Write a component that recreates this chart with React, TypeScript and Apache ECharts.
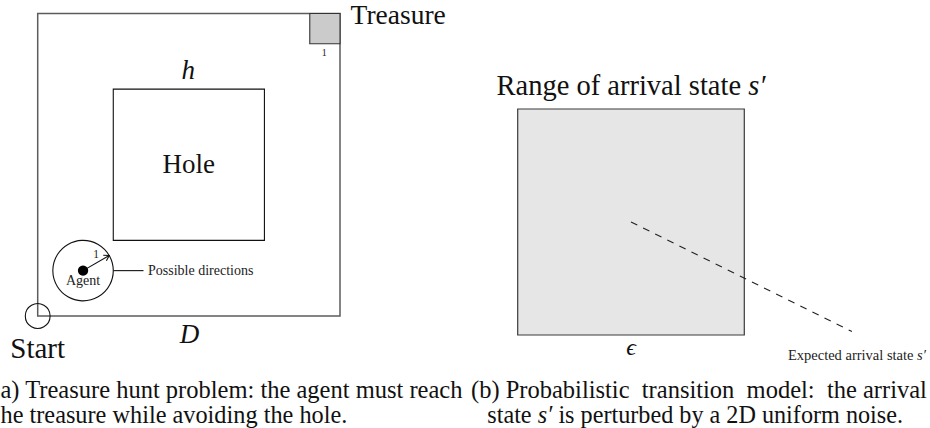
import React, { useEffect, useRef } from "react";
import * as echarts from "echarts";

const FONT = '"Liberation Serif", "Times New Roman", "DejaVu Serif", serif';

// ---------- Panel (a): treasure hunt world, unit = treasure cell (D = 10) ----------
const worldRange = [0, 10];
const treasureCell = [9, 9, 1, 1]; // x, y, width, height
const holeSquare = [2.5, 2.5, 5, 5]; // side h = 5
const agentPosition = [1.5, 1.5];
const stepLength = 1;
const headingDegrees = 30;
const startPosition = [0, 0];
const startMarkerRadius = 0.41;
const agentDotRadius = 0.17;
const directionsLeader = [
  [2.5, 1.5],
  [3.5, 1.5],
];

const worldLabels = ["Treasure", "1", "h", "Hole", "1", "Agent", "Possible directions", "Start", "D"];
const worldLabelAnchors = [
  [10.35, 9.98],
  [9.48, 8.71],
  [4.98, 8.12],
  [5.0, 5.03],
  [1.93, 2.06],
  [1.5, 1.18],
  [3.65, 1.515],
  [0, -1.05],
  [5.02, -0.59],
];

// ---------- Panel (b): transition noise, unit = ε ----------
const noiseRange = [0, 1];
const noiseSquare = [0, 0, 1, 1];
const expectedArrival = [0.5, 0.5];
const calloutEnd = [1.475, 0.015];
const noiseLabels = ["Range of arrival state s′", "ϵ", "Expected arrival state s′"];
const noiseLabelAnchors = [
  [0.5, 1.104],
  [0.5, -0.053],
  [1.497, -0.088],
];

// ---------- Captions (as visible in the figure; justified spacing kept) ----------
const captionA = ["a) Treasure hunt problem: the agent must reach", "he treasure while avoiding the hole."];
const captionB = ["(b) Probabilistic  transition  model:  the arrival", "state s′ is perturbed by a 2D uniform noise."];

// styles (kept out of data)
type LS = { size: number; italic?: boolean; align: string; fill: string };
const worldLabelStyle: LS[] = [
  { size: 27.5, align: "left", fill: "#111" },
  { size: 10, align: "center", fill: "#222" },
  { size: 27, italic: true, align: "center", fill: "#111" },
  { size: 27, align: "center", fill: "#111" },
  { size: 11.5, align: "center", fill: "#222" },
  { size: 14, align: "center", fill: "#222" },
  { size: 14, align: "left", fill: "#222" },
  { size: 29, align: "center", fill: "#111" },
  { size: 27, italic: true, align: "center", fill: "#111" },
];
const noiseLabelStyle: LS[] = [
  { size: 28.5, align: "center", fill: "#111" },
  { size: 24, italic: true, align: "center", fill: "#111" },
  { size: 14.5, align: "center", fill: "#222" },
];

const richPrime = (t: string) => t.replace("s′", "{it|s′}");

function textEl(p: number[], text: string, st: LS) {
  const rich = {
    it: { fontStyle: "italic", fontSize: st.size, fontFamily: FONT, fill: st.fill },
  };
  return {
    type: "text",
    x: p[0],
    y: p[1],
    style: {
      text: richPrime(text),
      rich,
      fontSize: st.size,
      fontFamily: FONT,
      fontStyle: st.italic ? "italic" : "normal",
      fill: st.fill,
      align: st.align,
      textAlign: st.align,
      verticalAlign: "middle",
      textVerticalAlign: "middle",
    },
  };
}

const worldShapes = ["board", "treasure", "hole", "agentRange", "heading", "agentDot", "leader", "start"];
const noiseShapes = ["square", "callout"];

export default function App() {
  const ref = useRef<HTMLDivElement>(null);

  useEffect(() => {
    if (!ref.current) return;
    const chart = echarts.init(ref.current, null, { renderer: "svg" });

    const box = (api: any, r: number[]) => {
      const a = api.coord([r[0], r[1] + r[3]]);
      const b = api.coord([r[0] + r[2], r[1]]);
      return { x: a[0], y: a[1], width: b[0] - a[0], height: b[1] - a[1] };
    };

    const renderWorld = (params: any, api: any) => {
      const i = params.dataIndex;
      if (i >= worldShapes.length) {
        const k = i - worldShapes.length;
        return textEl(api.coord(worldLabelAnchors[k]), worldLabels[k], worldLabelStyle[k]);
      }
      const kind = worldShapes[i];
      const unit = api.size([1, 1])[0];
      switch (kind) {
        case "board":
          return {
            type: "rect",
            shape: box(api, [worldRange[0], worldRange[0], worldRange[1] - worldRange[0], worldRange[1] - worldRange[0]]),
            style: { fill: "none", stroke: "#5c5c5c", lineWidth: 1.5 },
          };
        case "treasure":
          return {
            type: "rect",
            shape: box(api, treasureCell),
            style: { fill: "#cbcbcb", stroke: "#333", lineWidth: 1.1 },
          };
        case "hole":
          return {
            type: "rect",
            shape: box(api, holeSquare),
            style: { fill: "none", stroke: "#111", lineWidth: 1.1 },
          };
        case "agentRange": {
          const c = api.coord(agentPosition);
          return {
            type: "circle",
            shape: { cx: c[0], cy: c[1], r: stepLength * unit },
            style: { fill: "none", stroke: "#111", lineWidth: 1.1 },
          };
        }
        case "agentDot": {
          const c = api.coord(agentPosition);
          return {
            type: "circle",
            shape: { cx: c[0], cy: c[1], r: agentDotRadius * unit },
            style: { fill: "#000", stroke: "none" },
          };
        }
        case "heading": {
          const rad = (headingDegrees * Math.PI) / 180;
          const c = api.coord(agentPosition);
          const t = api.coord([
            agentPosition[0] + stepLength * Math.cos(rad),
            agentPosition[1] + stepLength * Math.sin(rad),
          ]);
          const dx = t[0] - c[0];
          const dy = t[1] - c[1];
          const len = Math.hypot(dx, dy);
          const ux = dx / len;
          const uy = dy / len;
          const hl = 6;
          const ang = (32 * Math.PI) / 180;
          const rot = (a: number) => [
            t[0] - hl * (ux * Math.cos(a) - uy * Math.sin(a)),
            t[1] - hl * (ux * Math.sin(a) + uy * Math.cos(a)),
          ];
          return {
            type: "group",
            children: [
              {
                type: "line",
                shape: { x1: c[0], y1: c[1], x2: t[0], y2: t[1] },
                style: { stroke: "#111", lineWidth: 1.1 },
              },
              {
                type: "polyline",
                shape: { points: [rot(ang), t, rot(-ang)] },
                style: { stroke: "#111", lineWidth: 1.1, fill: "none" },
              },
            ],
          };
        }
        case "leader": {
          const a = api.coord(directionsLeader[0]);
          const b = api.coord(directionsLeader[1]);
          return {
            type: "line",
            shape: { x1: a[0], y1: a[1], x2: b[0], y2: b[1] },
            style: { stroke: "#111", lineWidth: 1.1 },
          };
        }
        case "start": {
          const c = api.coord(startPosition);
          return {
            type: "circle",
            shape: { cx: c[0], cy: c[1], r: startMarkerRadius * unit },
            style: { fill: "none", stroke: "#111", lineWidth: 1.1 },
          };
        }
      }
      return null;
    };

    const renderNoise = (params: any, api: any) => {
      const i = params.dataIndex;
      if (i >= noiseShapes.length) {
        const k = i - noiseShapes.length;
        return textEl(api.coord(noiseLabelAnchors[k]), noiseLabels[k], noiseLabelStyle[k]);
      }
      if (noiseShapes[i] === "square") {
        return {
          type: "rect",
          shape: box(api, noiseSquare),
          style: { fill: "#e6e6e6", stroke: "#3a3a3a", lineWidth: 1.2 },
        };
      }
      const a = api.coord(expectedArrival);
      const b = api.coord(calloutEnd);
      return {
        type: "line",
        shape: { x1: a[0], y1: a[1], x2: b[0], y2: b[1] },
        style: { stroke: "#222", lineWidth: 1.1, lineDash: [7, 6.5] },
      };
    };

    const worldData = [
      ...worldShapes.map(() => [worldRange[0], worldRange[0]]),
      ...worldLabelAnchors,
    ];
    const noiseData = [...noiseShapes.map(() => [noiseRange[0], noiseRange[0]]), ...noiseLabelAnchors];

    const captionStyle = (text: string, align: string, size: number) => ({
      text: richPrime(text),
      rich: { it: { fontStyle: "italic", fontSize: size, fontFamily: FONT, fill: "#111" } },
      fontSize: size,
      fontFamily: FONT,
      fill: "#111",
      align,
      textAlign: align,
      verticalAlign: "middle",
      textVerticalAlign: "middle",
    });

    chart.setOption({
      animation: false,
      backgroundColor: "#ffffff",
      grid: [
        { left: 37.7, top: 13.5, width: 302.3, height: 302.5 },
        { left: 517.7, top: 109, width: 226.6, height: 226 },
      ],
      xAxis: [
        { type: "value", gridIndex: 0, min: worldRange[0], max: worldRange[1], show: false },
        { type: "value", gridIndex: 1, min: noiseRange[0], max: noiseRange[1], show: false },
      ],
      yAxis: [
        { type: "value", gridIndex: 0, min: worldRange[0], max: worldRange[1], show: false },
        { type: "value", gridIndex: 1, min: noiseRange[0], max: noiseRange[1], show: false },
      ],
      series: [
        {
          type: "custom",
          xAxisIndex: 0,
          yAxisIndex: 0,
          clip: false,
          silent: true,
          renderItem: renderWorld,
          data: worldData,
        },
        {
          type: "custom",
          xAxisIndex: 1,
          yAxisIndex: 1,
          clip: false,
          silent: true,
          renderItem: renderNoise,
          data: noiseData,
        },
      ],
      graphic: [
        { type: "text", x: 0.5, y: 389.5, silent: true, style: captionStyle(captionA[0], "left", 24.5) },
        { type: "text", x: 0.5, y: 414.5, silent: true, style: captionStyle(captionA[1], "left", 24.3) },
        { type: "text", x: 471, y: 389.5, silent: true, style: captionStyle(captionB[0], "left", 24.5) },
        { type: "text", x: 903, y: 414.5, silent: true, style: captionStyle(captionB[1], "right", 24.2) },
      ],
    });

    return () => chart.dispose();
  }, []);

  return (
    <div
      ref={ref}
      style={{ position: "fixed", left: 0, top: 0, width: 930, height: 428, background: "#fff" }}
    />
  );
}
